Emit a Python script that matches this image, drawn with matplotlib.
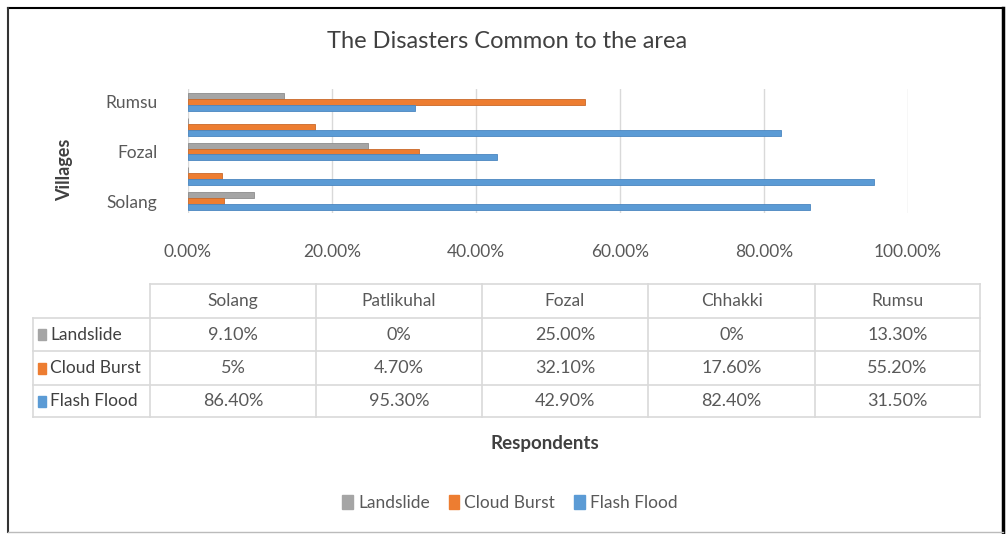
import matplotlib
matplotlib.use("Agg")
import numpy as np
import matplotlib.pyplot as plt
from matplotlib.patches import Rectangle, Patch

villages = ["Solang", "Patlikuhal", "Fozal", "Chhakki", "Rumsu"]
series = ["Landslide", "Cloud Burst", "Flash Flood"]
landslide = [9.1, 0, 25.0, 0, 13.3]
cloud_burst = [5, 4.7, 32.1, 17.6, 55.2]
flash_flood = [86.4, 95.3, 42.9, 82.4, 31.5]
table_text = [
    ["9.10%", "0%", "25.00%", "0%", "13.30%"],
    ["5%", "4.70%", "32.10%", "17.60%", "55.20%"],
    ["86.40%", "95.30%", "42.90%", "82.40%", "31.50%"],
]
x_ticks = [0, 20, 40, 60, 80, 100]

colors = ["#A5A5A5", "#ED7D31", "#5B9BD5"]
edges = ["#8C8C8C", "#C9692A", "#4A86C0"]
txt = "#595959"
dark = "#404040"
font = ["Lato", "DejaVu Sans"]
plt.rcParams["font.family"] = font

W, H = 1008, 534
fig = plt.figure(figsize=(W / 100, H / 100), dpi=100)

# background axes in pixel coords for frame, table, labels
bg = fig.add_axes([0, 0, 1, 1])
bg.set_xlim(0, W)
bg.set_ylim(H, 0)
bg.axis("off")
bg.plot([8, 1003], [8, 8], color="black", lw=1.5)
bg.plot([8, 8], [8, 532], color="#333333", lw=1.5)
bg.plot([1003, 1003], [8, 532], color="black", lw=2.5)
bg.plot([8, 1003], [532, 532], color="#BBBBBB", lw=1)

bg.text(507, 42, "The Disasters Common to the area", ha="center", va="center",
        fontsize=17, color=dark)
bg.text(65, 170, "Villages", ha="center", va="center", rotation=90,
        fontsize=13, fontweight="bold", color=dark)

# data table
col_x = [33, 150, 316, 482, 648, 815, 980]
row_y = [284, 318, 351, 385, 417]
grid_c = "#D9D9D9"
for x in col_x[1:]:
    bg.plot([x, x], [row_y[0], row_y[-1]], color=grid_c, lw=1.2)
bg.plot([col_x[0], col_x[0]], [row_y[1], row_y[-1]], color=grid_c, lw=1.2)
bg.plot([col_x[1], col_x[-1]], [row_y[0], row_y[0]], color=grid_c, lw=1.2)
for y in row_y[1:]:
    bg.plot([col_x[0], col_x[-1]], [y, y], color=grid_c, lw=1.2)

for j, v in enumerate(villages):
    cx = (col_x[j + 1] + col_x[j + 2]) / 2
    bg.text(cx, (row_y[0] + row_y[1]) / 2, v, ha="center", va="center",
            fontsize=12.5, color=txt)
for i, s in enumerate(series):
    cy = (row_y[i + 1] + row_y[i + 2]) / 2
    bg.add_patch(Rectangle((38, cy - 5.5), 8, 11, color=colors[i]))
    bg.text(50, cy, s, ha="left", va="center", fontsize=12.5, color=dark)
    for j in range(len(villages)):
        cx = (col_x[j + 1] + col_x[j + 2]) / 2
        bg.text(cx, cy, table_text[i][j], ha="center", va="center",
                fontsize=13, color=txt)

bg.text(545, 444, "Respondents", ha="center", va="center", fontsize=13.5,
        fontweight="bold", color=dark)

# bar chart
ax = fig.add_axes([188 / W, 1 - 213.5 / H, 720 / W, 124 / H])
pos = np.arange(len(villages))
h = 0.24
vals = [landslide, cloud_burst, flash_flood]
for i, v in enumerate(vals):
    ax.barh(pos + (1 - i) * h, v, height=h, color=colors[i],
            edgecolor=edges[i], lw=0.6, label=series[i], zorder=3)
ax.set_xlim(0, 100)
ax.set_ylim(-0.5, len(villages) - 0.5)
ax.set_xticks(x_ticks)
ax.set_xticklabels([f"{t:.2f}%" for t in x_ticks])
ax.set_yticks(pos[::2])
ax.set_yticklabels(villages[::2])
ax.grid(axis="x", color=grid_c, lw=1, zorder=0)
for sp in ax.spines.values():
    sp.set_visible(False)
ax.tick_params(length=0, labelsize=12.5, colors=txt)
ax.tick_params(axis="x", pad=22)
ax.tick_params(axis="y", pad=22)

handles = [Patch(color=c) for c in colors]
fig.legend(handles, series, loc="center", bbox_to_anchor=(510 / W, 1 - 503 / H),
           ncol=3, frameon=False, handlelength=0.6, handleheight=0.8,
           handletextpad=0.3, columnspacing=1.1, fontsize=12.5,
           labelcolor=txt)

fig.savefig("out.png", dpi=100)
